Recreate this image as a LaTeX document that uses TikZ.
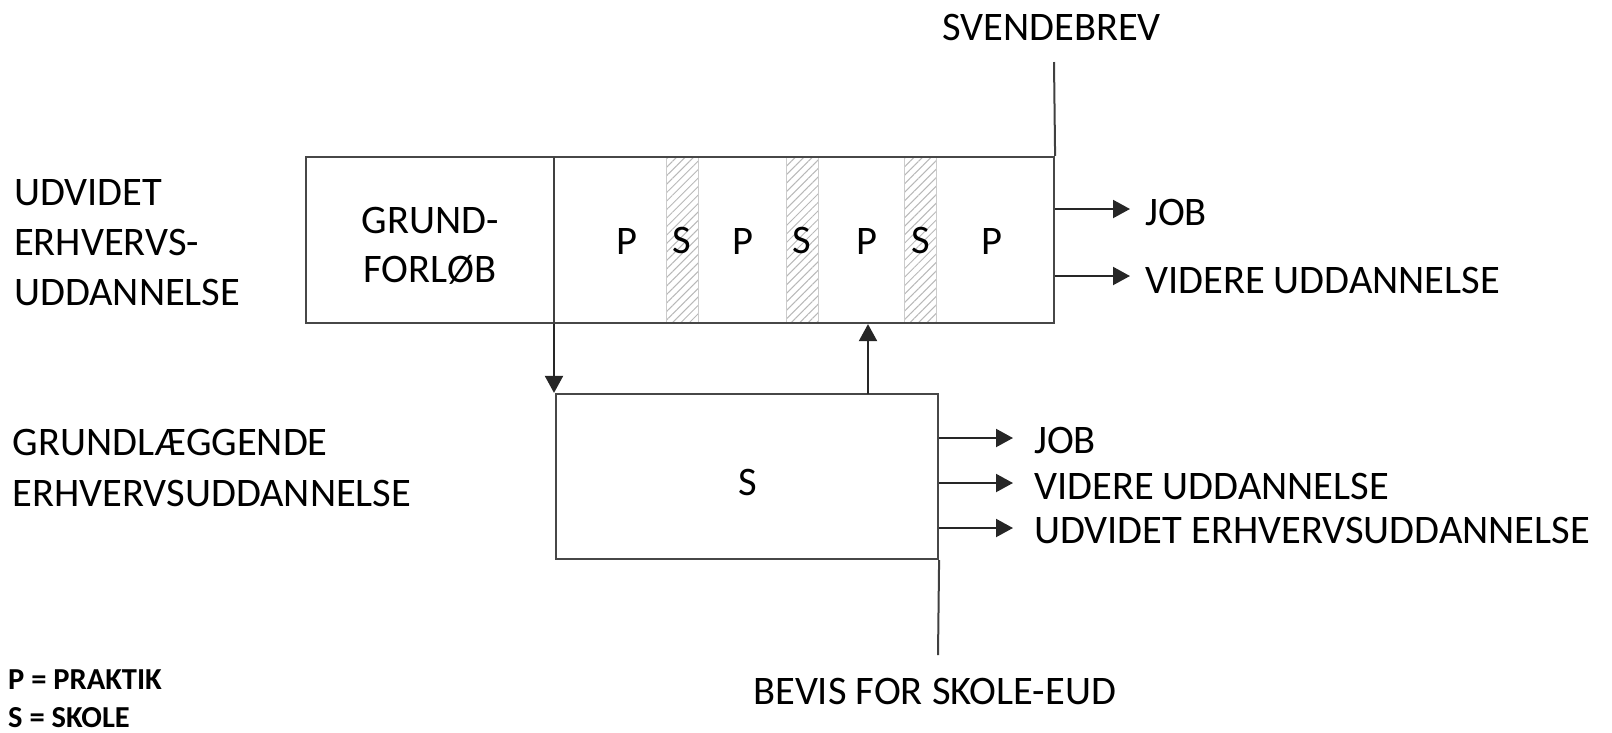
\documentclass[tikz,border=0pt]{standalone}
\usepackage{fontspec}
\setmainfont{Carlito}
\usetikzlibrary{arrows.meta,patterns.meta}
\begin{document}
\begin{tikzpicture}[x=1pt,y=-1pt,
  box/.style={draw=black!72, line width=2.2pt, inner sep=0pt},
  stripe/.style={draw=black!20, line width=1pt, pattern={Lines[angle=45,distance=6pt,line width=1pt]}, pattern color=black!28, minimum width=32pt, minimum height=166pt, inner sep=0pt, font=\fontsize{40.5}{49}\selectfont},
  lbl/.style={inner sep=0pt, font=\fontsize{40.5}{49}\selectfont, text=black},
  small/.style={inner sep=0pt, font=\bfseries\fontsize{30.5}{36}\selectfont, text=black},
  arr/.style={-{Triangle[length=17pt,width=18pt]}, line width=2pt, black!85},
  ln/.style={line width=2pt, black!75}]
\useasboundingbox (0,0) rectangle (1612,732);

% hatched school stripes
\node[stripe] (s1) at (682,240) {S};
\node[stripe] (s2) at (802,240) {S};
\node[stripe] (s3) at (920.5,240) {S};

% boxes
\node[box, minimum width=748pt, minimum height=166pt] (top) at (680,240) {};
\node[box, minimum width=382pt, minimum height=165pt] (bot) at (747,476.5) {};

% practice labels
\node[lbl] (p1) at (627,241) {P};
\node[lbl] (p2) at (743,241) {P};
\node[lbl] (p3) at (867,241) {P};
\node[lbl] (p4) at (992,241) {P};

% grundforloeb
\node[lbl, anchor=base] (g1) at (430,233) {GRUND-};
\node[lbl, anchor=base] (g2) at (430,282) {FORLØB};
\node[lbl] (bs) at (748,482) {S};

% divider and arrows between boxes
\coordinate (dv) at (554,157);
\draw[ln] (dv) -- (dv |- top.south);
\draw[arr] (dv |- top.south) -- (dv |- bot.north);
\coordinate (up) at (868,394);
\draw[arr] (up) -- (up |- top.south);

% svendebrev / bevis lines
\coordinate (svtop) at (1054,62);
\draw[ln] (top.north east) -- (svtop);
\coordinate (bvbot) at (938,655);
\draw[ln] (bot.south east) -- (bvbot);

\node[lbl, anchor=base west] (sv) at (942,40) {SVENDEBREV};
\node[lbl, anchor=base west] (bv) at (753,704) {BEVIS FOR SKOLE-EUD};

% left labels
\node[lbl, anchor=base west] (u1) at (14,205) {UDVIDET};
\node[lbl, anchor=base west] (u2) at (14,255) {ERHVERVS-};
\node[lbl, anchor=base west] (u3) at (14,305) {UDDANNELSE};
\node[lbl, anchor=base west] (e1) at (12.5,455) {GRUNDLÆGGENDE};
\node[lbl, anchor=base west] (e2) at (12.5,506) {ERHVERVSUDDANNELSE};

% outputs of top box
\coordinate (ta1) at (1130,209);
\coordinate (ta2) at (1130,276);
\draw[arr] (top.east |- ta1) -- (ta1);
\draw[arr] (top.east |- ta2) -- (ta2);
\node[lbl, anchor=base west] (tj) at (1145,225) {JOB};
\node[lbl, anchor=base west] (tv) at (1145,293) {VIDERE UDDANNELSE};

% outputs of bottom box
\coordinate (ba1) at (1013,438);
\coordinate (ba2) at (1013,483);
\coordinate (ba3) at (1013,528);
\draw[arr] (bot.east |- ba1) -- (ba1);
\draw[arr] (bot.east |- ba2) -- (ba2);
\draw[arr] (bot.east |- ba3) -- (ba3);
\node[lbl, anchor=base west] (bj) at (1034,453) {JOB};
\node[lbl, anchor=base west] (bvu) at (1034,499) {VIDERE UDDANNELSE};
\node[lbl, anchor=base west] (bu) at (1034,543) {UDVIDET ERHVERVSUDDANNELSE};

% legend
\node[small, anchor=base west] (l1) at (8,689) {P = PRAKTIK};
\node[small, anchor=base west] (l2) at (8,727) {S = SKOLE};
\end{tikzpicture}
\end{document}
